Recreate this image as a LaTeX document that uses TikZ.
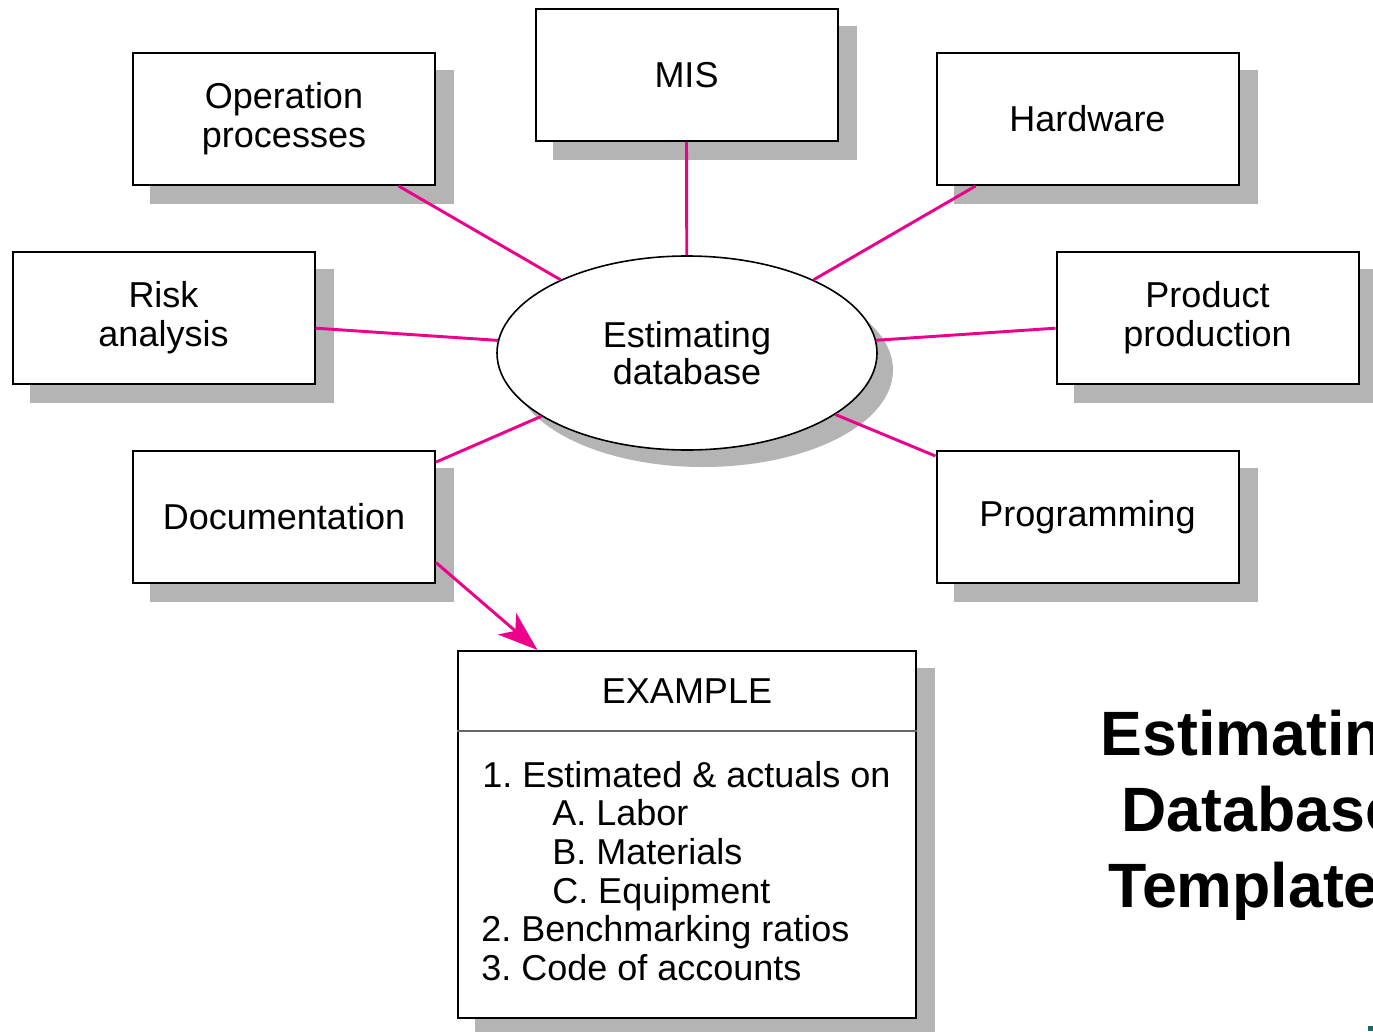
\documentclass[tikz,border=0pt]{standalone}
\usepackage{fontspec}
\setmainfont{Liberation Sans}
\usetikzlibrary{shapes.geometric,arrows.meta,calc}
\pgfdeclarelayer{bg}
\pgfsetlayers{bg,main}
\definecolor{pinkline}{HTML}{EC008C}
\definecolor{shadowgray}{HTML}{B4B4B4}
\definecolor{tealmark}{HTML}{1A6B66}
\frenchspacing
\begin{document}
\begin{tikzpicture}[x=0.75pt,y=-0.75pt,
  box/.style={draw=black,line width=1.5pt,fill=white,minimum width=226.5pt,minimum height=99pt,
    align=center,inner sep=0pt,font=\fontsize{27}{29.25}\selectfont},
  dbnode/.style={ellipse,draw=black,line width=1.2pt,fill=white,minimum width=285pt,minimum height=145.5pt,
    align=center,inner sep=0pt,font=\fontsize{27}{28}\selectfont},
  exbox/.style={draw=black,line width=1.5pt,fill=white,minimum width=343.5pt,minimum height=275.25pt,inner sep=0pt},
  item/.style={anchor=base west,inner sep=0pt,font=\fontsize{27}{29}\selectfont},
  titletext/.style={anchor=base,inner sep=0pt,font=\bfseries\fontsize{47}{57}\selectfont},
  conn/.style={draw=pinkline,line width=2.2pt},
  shadowfill/.style={fill=shadowgray}]
\clip (0,0) rectangle (1373,1031);

% nodes
\node[box] (op) at (284,119) {Operation\\processes};
\node[box] (mis) at (686.5,75) {MIS};
\node[box] (hw) at (1087.5,119) {Hardware};
\node[box] (risk) at (163.5,318) {Risk\\analysis};
\node[box] (prod) at (1207.5,318) {Product\\production};
\node[box] (doc) at (284,517) {Documentation};
\node[box] (prog) at (1087.5,517) {Programming};
\node[dbnode] (db) at (687,353) {Estimating\\database};
\node[exbox] (ex) at (687,834.5) {};

% shadows
\begin{pgfonlayer}{bg}
  \fill[white] (0,0) rectangle (1373,1031);
  \foreach \n in {op,mis,hw,risk,prod,doc,prog,ex}
    \fill[shadowfill] ($(\n.south west)+(18,18)$) rectangle ($(\n.north east)+(18,18)$);
  \fill[shadowfill] ($(db.center)+(16,17)$) ellipse [x radius=142.5pt, y radius=72.75pt];
\end{pgfonlayer}

% example content
\draw[draw=gray!80!black,line width=1.2pt] ($(ex.north west)+(0,81)$) -- ($(ex.north east)+(0,81)$);
\node[anchor=base,inner sep=0pt,font=\fontsize{27}{29}\selectfont] (exhead) at (687,703) {EXAMPLE};
\node[item] (i1) at (482,787) {1. Estimated \& actuals on};
\node[item] (i1a) at (552,825.5) {A. Labor};
\node[item] (i1b) at (552,864) {B. Materials};
\node[item] (i1c) at (552,903) {C. Equipment};
\node[item] (i2) at (481,941.5) {2. Benchmarking ratios};
\node[item] (i3) at (481,980) {3. Code of accounts};

% connectors
\draw[conn] ($(op.south west)!0.877!(op.south east)$) -- (db);
\draw[conn] (mis.south) -- (db);
\draw[conn] ($(hw.south west)!0.132!(hw.south east)$) -- (db);
\draw[conn] ($(risk.north east)!0.576!(risk.south east)$) -- (db);
\draw[conn] ($(prod.north west)!0.576!(prod.south west)$) -- (db);
\draw[conn] ($(doc.north east)!0.09!(doc.south east)$) -- (db);
\draw[conn] ($(prog.north west)!0.045!(prog.south west)$) -- (db);
\draw[conn,-{Stealth[length=30pt,width=21pt,inset=8pt]}] ($(doc.south east)!0.16!(doc.north east)$) -- ($(ex.north west)!0.175!(ex.north east)$);

% title
\node[titletext] (t1) at (1261,755.5) {Estimating};
\node[titletext] (t2) at (1261,831) {Database};
\node[titletext] (t3) at (1261,907) {Templates};

\fill[tealmark] (1368,1026) rectangle (1373,1031);
\end{tikzpicture}
\end{document}
